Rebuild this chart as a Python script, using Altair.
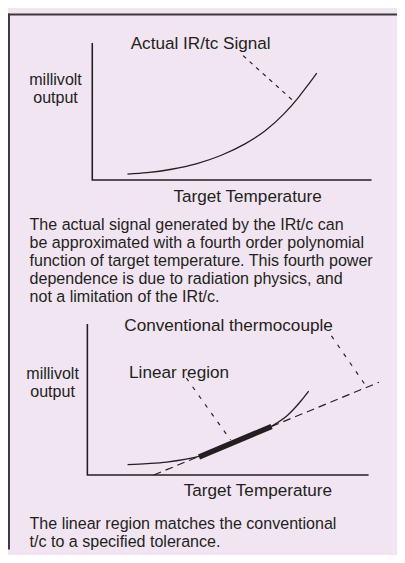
import altair as alt
import pandas as pd

FONT = "Liberation Sans"
BG = "#f0e5f1"
INK = "#231f20"

# ---------------- upper diagram (arbitrary units: temperature 0-10, millivolt 0-10)
axis_t = [0, 0, 10]
axis_mv = [10, 0, 0]
axis_order = [0, 1, 2]

top_curve_t = [1.26, 1.96, 2.84, 3.72, 4.60, 5.47, 6.18, 6.88, 7.40, 7.75, 8.04]
top_curve_mv = [0.43, 0.54, 0.79, 1.18, 1.79, 2.64, 3.57, 4.86, 6.07, 7.00, 7.79]

top_leader_t = [5.40, 7.19]
top_leader_mv = [9.07, 5.79]

top_labels = ["Actual IR/tc Signal"]
top_label_t = [3.88]
top_label_mv = [9.57]

# ---------------- lower diagram
bottom_curve_t = [1.43, 2.13, 2.82, 3.97, 5.26, 6.55, 7.11, 7.60, 7.87]
bottom_curve_mv = [0.69, 0.76, 0.86, 1.23, 2.14, 3.23, 3.94, 4.92, 5.56]

linear_t = [3.97, 6.55]
linear_mv = [1.20, 3.22]

tc_line_t = [2.36, 10.37]
tc_line_mv = [0.0, 6.15]

lead_linear_t = [3.52, 5.09]
lead_linear_mv = [6.43, 2.32]

lead_tc_t = [8.68, 9.91]
lead_tc_mv = [9.22, 5.89]

bottom_labels = ["Conventional thermocouple", "Linear region"]
bottom_label_t = [5.02, 3.26]
bottom_label_mv = [9.56, 6.43]

# ---------------- texts
y_title = ["millivolt", "output"]
x_title = "Target Temperature"
para1 = [
    "The actual signal generated by the IRt/c can",
    "be approximated with a fourth order polynomial",
    "function of target temperature. This fourth power",
    "dependence is due to radiation physics, and",
    "not a limitation of the IRt/c.",
]
para2 = [
    "The linear region matches the conventional",
    "t/c to a specified tolerance.",
]

W, H = 397, 547


def line_df(t, mv):
    return pd.DataFrame({"t": t, "mv": mv, "o": list(range(len(t)))})


def diagram(xr, yr, parts):
    xs = alt.Scale(domain=[0, 10], range=xr)
    ys = alt.Scale(domain=[0, 10], range=yr)
    X = alt.X("t:Q", scale=xs, axis=None)
    Y = alt.Y("mv:Q", scale=ys, axis=None)
    layers = []
    for kind, df, style in parts:
        if kind == "line":
            layers.append(
                alt.Chart(df).mark_line(color=INK, clip=False, **style)
                .encode(x=X, y=Y, order="o:Q")
            )
        else:
            layers.append(
                alt.Chart(df).mark_text(font=FONT, color=INK, align="center",
                                        baseline="alphabetic", **style)
                .encode(x=X, y=Y, text="label:N")
            )
    return alt.layer(*layers)


top = diagram(
    [86, 371], [170, 30],
    [
        ("line", pd.DataFrame({"t": axis_t, "mv": axis_mv, "o": axis_order}), dict(strokeWidth=1.6)),
        ("line", line_df(top_curve_t, top_curve_mv), dict(strokeWidth=1.3, interpolate="monotone")),
        ("line", line_df(top_leader_t, top_leader_mv), dict(strokeWidth=1.2, strokeDash=[4, 5])),
        ("text", pd.DataFrame({"t": top_label_t, "mv": top_label_mv, "label": top_labels}), dict(fontSize=17.5)),
    ],
)

bottom = diagram(
    [81, 368], [471, 317],
    [
        ("line", pd.DataFrame({"t": axis_t, "mv": axis_mv, "o": axis_order}), dict(strokeWidth=1.6)),
        ("line", line_df(bottom_curve_t, bottom_curve_mv), dict(strokeWidth=1.3, interpolate="monotone")),
        ("line", line_df(tc_line_t, tc_line_mv), dict(strokeWidth=1.2, strokeDash=[8, 5])),
        ("line", line_df(linear_t, linear_mv), dict(strokeWidth=5.5, strokeCap="butt")),
        ("line", line_df(lead_linear_t, lead_linear_mv), dict(strokeWidth=1.2, strokeDash=[4, 7])),
        ("line", line_df(lead_tc_t, lead_tc_mv), dict(strokeWidth=1.2, strokeDash=[4, 7])),
        ("text", pd.DataFrame({"t": bottom_label_t, "mv": bottom_label_mv, "label": bottom_labels}), dict(fontSize=17.5)),
    ],
)


def text_block(lines, x, y, align, size, lh):
    df = pd.DataFrame({"label": ["\n".join(lines) if isinstance(lines, list) else lines]})
    return alt.Chart(df).mark_text(
        font=FONT, color=INK, fontSize=size, align=align, baseline="alphabetic",
        lineBreak="\n", lineHeight=lh,
    ).encode(x=alt.value(x), y=alt.value(y), text="label:N")


texts = alt.layer(
    text_block(y_title, 48.5, 72.5, "center", 16.4, 18.4),
    text_block(x_title, 244.5, 192, "center", 17.5, 18),
    text_block(para1, 22, 221, "left", 16.4, 18.4),
    text_block(y_title, 45.5, 372.5, "center", 16.4, 18.4),
    text_block(x_title, 255, 492, "center", 17.5, 18),
    text_block(para2, 22, 526, "left", 16.4, 18.4),
)

frame_top = alt.Chart(pd.DataFrame({"k": [0]})).mark_rule(color="#3a3a3a", strokeWidth=2).encode(
    x=alt.value(0), x2=alt.value(W), y=alt.value(1), y2=alt.value(1)
)
frame_left = alt.Chart(pd.DataFrame({"k": [0]})).mark_rule(color="#3a3a3a", strokeWidth=2).encode(
    x=alt.value(1), x2=alt.value(1), y=alt.value(0), y2=alt.value(H)
)

chart = (
    alt.layer(top, bottom, texts, frame_top, frame_left)
    .resolve_scale(x="independent", y="independent")
    .properties(width=W, height=H, padding=0, background=BG,
                autosize=alt.AutoSizeParams(type="none"))
    .configure_view(stroke=None)
)

chart.save("out.html", embed_options={"renderer": "svg", "actions": False})
